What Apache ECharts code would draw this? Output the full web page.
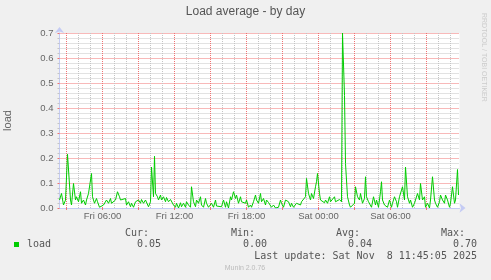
<!DOCTYPE html>
<html><head><meta charset="utf-8">
<script src="https://cdn.jsdelivr.net/npm/echarts@6/dist/echarts.min.js"></script>
<style>html,body{margin:0;padding:0;background:#f0f0f0}#c{width:491px;height:280px}</style>
</head><body><div id="c"></div>
<script>
const chartTitle = 'Load average - by day';
const seriesName = 'load';
const startMinute = 145;   // Fri 02:25 (minutes after Fri 00:00)
const spanMinutes = 2000;  // 400 samples x 5 min
const sampleMinutes = [0,10,20,30,40,55,60,70,80,85,95,105,110,120,130,135,145,160,165,175,185,190,200,210,220,230,235,245,255,260,270,280,290,300,305,315,330,335,345,355,360,370,380,395,405,410,420,430,435,445,455,460,470,475,480,490,495,505,510,520,530,535,545,555,560,570,580,585,595,605,610,620,630,635,645,655,660,670,680,685,695,705,710,720,730,735,745,755,760,770,780,785,795,810,820,830,835,845,855,860,870,880,885,895,905,910,920,930,935,945,955,960,970,980,985,995,1005,1010,1020,1030,1035,1045,
1055,1060,1070,1080,1095,1105,1110,1120,1130,1135,1145,1155,1160,1170,1180,1185,1195,1205,1210,1220,1230,1235,1245,1255,1260,1270,1280,1285,1290,1300,1305,1315,1325,1330,1340,1350,1355,1365,1375,1380,1390,1400,1410,1415,1425,1430,1440,1450,1455,1465,1475,1480,1490,1500,1505,1515,1525,1530,1535,1545,1555,1560,1570,1580,1585,1595,1605,1610,1615,1625,1635,1640,1650,1660,1665,1675,1685,1690,1700,1710,1715,1725,1730,1740,1750,1755,1765,1775,1780,1790,1800,1805,1815,1825,1830,1840,1850,1855,1865,1875,1880,1890,1900,1905,1915,1925,1930,1940,1950,1955,1965,1975,1980,1990,1995];
const loadValues = [0.032,0.058,0.012,0.032,0.215,0.032,0.012,0.098,0.032,0.045,0.025,0.065,0.019,0.032,0.012,0.032,0.058,0.138,0.045,0.019,0.038,0.025,0.003,0.000,0.012,0.005,0.032,0.019,0.038,0.019,0.025,0.032,0.065,0.045,0.032,0.025,0.038,0.012,0.025,0.005,0.019,0.003,0.025,0.032,0.019,0.034,0.019,0.032,0.025,0.005,0.025,0.164,0.045,0.207,0.058,0.045,0.032,0.052,0.032,0.045,0.025,0.042,0.025,0.034,0.032,0.012,0.003,0.019,0.000,0.021,0.005,0.019,0.003,0.025,0.012,0.003,0.085,0.025,0.005,0.032,0.019,0.045,0.012,0.003,0.038,0.019,0.003,0.000,0.019,0.003,0.032,0.008,0.000,0.005,0.032,0.003,0.025,0.000,0.045,0.032,0.065,0.038,0.052,0.019,0.045,0.025,0.032,0.019,0.032,0.003,0.012,0.003,0.025,0.052,0.032,0.019,0.058,0.025,0.038,0.012,0.032,0.022,
0.025,0.003,0.012,0.000,0.003,0.032,0.019,0.003,0.032,0.038,0.025,0.005,0.019,0.003,0.008,0.019,0.025,0.012,0.025,0.032,0.045,0.118,0.058,0.032,0.058,0.038,0.085,0.105,0.138,0.058,0.032,0.038,0.021,0.032,0.019,0.045,0.025,0.032,0.045,0.025,0.032,0.034,0.025,0.700,0.450,0.178,0.045,0.012,0.003,0.000,0.019,0.085,0.045,0.032,0.058,0.019,0.038,0.125,0.045,0.025,0.032,0.003,0.045,0.012,0.032,0.003,0.065,0.105,0.032,0.012,0.019,0.003,0.032,0.003,0.019,0.045,0.025,0.003,0.045,0.038,0.085,0.032,0.164,0.045,0.019,0.032,0.003,0.019,0.025,0.058,0.032,0.098,0.032,0.045,0.003,0.019,0.000,0.032,0.125,0.032,0.019,0.003,0.025,0.052,0.032,0.019,0.052,0.032,0.003,0.019,0.085,0.019,0.032,0.154,0.052];
const tickLabelMinutes = [360, 720, 1080, 1440, 1800];
const tickLabels = ['Fri 06:00', 'Fri 12:00', 'Fri 18:00', 'Sat 00:00', 'Sat 06:00'];
const statLabels = ['Cur:', 'Min:', 'Avg:', 'Max:'];
const statValues = ['0.05', '0.00', '0.04', '0.70'];
const lastUpdate = 'Last update: Sat Nov  8 11:45:05 2025';
const watermark = 'RRDTOOL / TOBI OETIKER';
const footer = 'Munin 2.0.76';

const W = 491, plotLeft = 59.5, plotWidth = 400, plotTop = 33, plotBottom = 72;
const endMinute = startMinute + spanMinutes;
const minorStep = 60, majorStep = 180;
const firstHour = Math.ceil(startMinute / majorStep) * majorStep;           // 03:00
const lastMinor = Math.floor(endMinute / minorStep) * minorStep;             // last whole hour
const lastMajor = Math.floor(endMinute / majorStep) * majorStep;             // last 3-hour mark
const px = m => plotLeft + (m - startMinute) / spanMinutes * plotWidth;
const majorTicks = [];
for (let m = firstHour; m <= lastMajor; m += majorStep) majorTicks.push(m);
const seriesData = sampleMinutes.map((m, i) => [startMinute + m, loadValues[i]]);

const FONT = '"Liberation Sans", Arial, sans-serif';
const MONO = '"DejaVu Sans Mono", monospace';
const axisColor = '#c4cbf4';
const minorColor = '#c4c4c4';
const majorColor = '#f07272';

const chart = echarts.init(document.getElementById('c'), null, {renderer: 'canvas'});
const statX = [125, 231, 336, 441];
const valRight = [161, 267, 372, 477];
const txt = (x, y, text, font, fill, align) => ({type: 'text', x, y,
  style: {text, font, fill, align, verticalAlign: 'middle', textAlign: align, textVerticalAlign: 'middle'}});
const graphics = [
  {type: 'rect', shape: {x: 14, y: 242, width: 5, height: 5}, style: {fill: '#00cc00'}},
  txt(27, 244.5, seriesName, '10px ' + MONO, '#555', 'left'),
  txt(477, 256, lastUpdate, '10px ' + MONO, '#555', 'right'),
  txt(245, 268.5, footer, '7px ' + FONT, '#bbbbbb', 'center'),
  Object.assign(txt(484, 13, watermark, '7px ' + FONT, '#cccccc', 'left'), {rotation: -Math.PI / 2})
];
statLabels.forEach((s, i) => {
  graphics.push(txt(statX[i], 233, s, '10px ' + MONO, '#555', 'left'));
  graphics.push(txt(valRight[i], 244.5, statValues[i], '10px ' + MONO, '#555', 'right'));
});

const hiddenAxisParts = {axisLine: {show: false}, axisTick: {show: false}, axisLabel: {show: false}};
chart.setOption({
  backgroundColor: '#f0f0f0',
  animation: false,
  title: {text: chartTitle, left: 'center', top: 6, padding: 0,
    textStyle: {fontSize: 12, fontWeight: 'normal', color: '#555', fontFamily: FONT}},
  grid: [
    {left: plotLeft, right: W - plotLeft - plotWidth, top: plotTop, bottom: plotBottom, containLabel: false, outerBoundsMode: 'none',
      show: true, backgroundColor: '#ffffff', borderWidth: 0},
    {left: px(firstHour), right: W - px(lastMinor), top: plotTop, bottom: plotBottom, containLabel: false, outerBoundsMode: 'none'},
    {left: px(firstHour), right: W - px(lastMajor), top: plotTop, bottom: plotBottom, containLabel: false, outerBoundsMode: 'none'}
  ],
  xAxis: [
    {gridIndex: 1, type: 'value', min: firstHour, max: lastMinor, interval: minorStep, ...hiddenAxisParts,
      splitLine: {show: true, lineStyle: {color: minorColor, width: 1, type: [1, 1]}}},
    {gridIndex: 2, type: 'value', min: firstHour, max: lastMajor, interval: majorStep, ...hiddenAxisParts,
      splitLine: {show: true, lineStyle: {color: majorColor, width: 1, type: [1, 1]}}},
    {gridIndex: 0, type: 'value', min: startMinute, max: endMinute, position: 'bottom',
      axisLine: {show: true, onZero: false, symbol: ['none', 'arrow'], symbolSize: [7, 6], symbolOffset: [0, 6],
        lineStyle: {color: axisColor, width: 1}},
      axisTick: {show: true, length: 2, inside: false, customValues: majorTicks, lineStyle: {color: majorColor}},
      axisLabel: {show: true, customValues: tickLabelMinutes, margin: 3, fontSize: 9.5, color: '#666', fontFamily: FONT,
        formatter: v => tickLabels[tickLabelMinutes.indexOf(v)] || ''},
      splitLine: {show: false}}
  ],
  yAxis: [
    {gridIndex: 1, type: 'value', min: 0, max: 1, show: false},
    {gridIndex: 2, type: 'value', min: 0, max: 1, show: false},
    {gridIndex: 0, type: 'value', min: 0, max: 0.7, interval: 0.1,
      name: seriesName, nameLocation: 'middle', nameGap: 46, nameRotate: 90,
      nameTextStyle: {fontSize: 11, color: '#666', fontFamily: FONT},
      axisLine: {show: true, symbol: ['none', 'arrow'], symbolSize: [7, 6], symbolOffset: [0, 6],
        lineStyle: {color: axisColor, width: 1}},
      axisTick: {show: true, length: 2, lineStyle: {color: majorColor}},
      minorTick: {show: true, splitNumber: 5, length: 2, lineStyle: {color: minorColor}},
      axisLabel: {margin: 6, fontSize: 9.5, color: '#666', fontFamily: FONT, formatter: v => v.toFixed(1)},
      splitLine: {show: true, lineStyle: {color: majorColor, width: 1, type: [1, 1]}},
      minorSplitLine: {show: true, lineStyle: {color: minorColor, width: 1, type: [1, 1]}}}
  ],
  series: [
    {type: 'line', name: seriesName, xAxisIndex: 2, yAxisIndex: 2, data: seriesData, showSymbol: false,
      lineStyle: {color: '#00cc00', width: 1}, itemStyle: {color: '#00cc00'}, z: 5}
  ],
  graphic: graphics
});
</script></body></html>
